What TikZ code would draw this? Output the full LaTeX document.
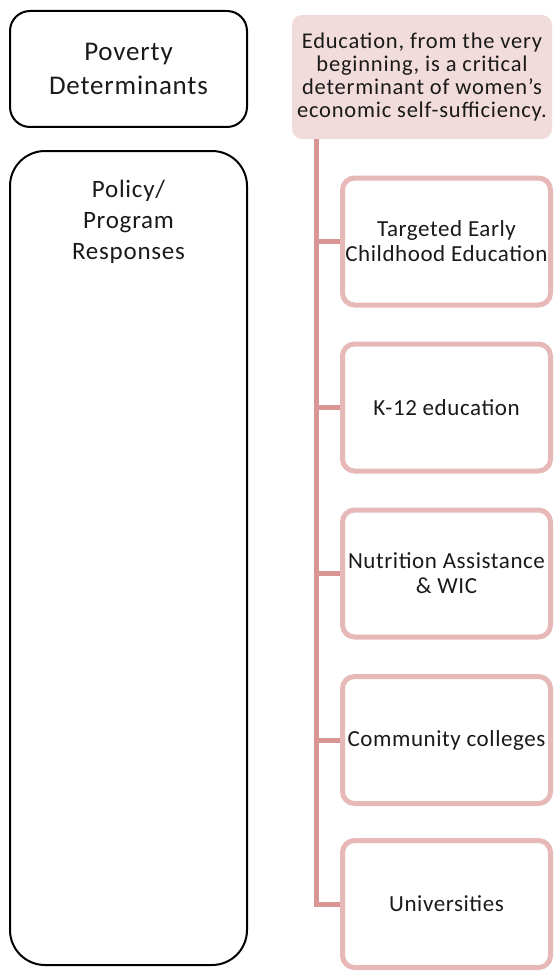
\documentclass[tikz,border=0pt]{standalone}
\usepackage{fontspec}
\setmainfont{Carlito}
\newfontfamily\headfont[LetterSpace=3]{Carlito}
\newfontfamily\topfont[LetterSpace=3.5]{Carlito}
\newfontfamily\itemfont[LetterSpace=2.5]{Carlito}
\usetikzlibrary{positioning}
\definecolor{pinkfill}{HTML}{F2DCDB}
\definecolor{pinkline}{HTML}{D99694}
\definecolor{pinkedge}{HTML}{E6B9B8}
\definecolor{textgray}{HTML}{1A1A1A}
\tikzset{
  headbox/.style={draw=black, line width=2pt, minimum width=237pt, align=center, text=textgray, font=\headfont\fontsize{25}{31}\selectfont},
  topbox/.style={fill=pinkfill, rounded corners=10pt, minimum width=260pt, minimum height=124pt, inner sep=2pt, align=center, text=textgray, font=\topfont\fontsize{22.5}{23}\selectfont},
  itembox/.style={draw=pinkedge, fill=white, line width=5pt, rounded corners=12pt, minimum width=208pt, minimum height=127pt, inner sep=2pt, align=center, text=textgray, font=\itemfont\fontsize{23}{25}\selectfont},
  branch/.style={draw=pinkline, line width=5pt},
}
\begin{document}
\begin{tikzpicture}[x=1pt,y=-1pt]
\useasboundingbox (0,0) rectangle (554,971);
\node[headbox, rounded corners=20pt, minimum height=116pt, font=\headfont\fontsize{27}{34}\selectfont] (poverty) at (128.5,69) {Poverty\\Determinants};
\node[headbox, rounded corners=35pt, minimum height=814pt] (policy) at (128.5,558) {};
\node[headbox, draw=none, below=26pt of policy.north] (policytxt) {Policy/\\Program\\Responses};
\node[topbox, text depth=4pt] (educ) at (422,77) {Education, from the very\\beginning, is a critical\\determinant of women’s\\economic self-sufficiency.};
\node[itembox] (b1) at (446.5,241.5) {Targeted Early\\Childhood Education};
\node[itembox] (b2) at (446.5,407.5) {K-12 education};
\node[itembox] (b3) at (446.5,573.5) {Nutrition Assistance\\\& WIC};
\node[itembox] (b4) at (446.5,740) {Community colleges};
\node[itembox] (b5) at (446.5,904) {Universities};
\coordinate (trunk) at (316,139);
\draw[branch] (trunk) |- (b5.west);
\foreach \i in {1,2,3,4}
  \draw[branch] (b\i.west -| trunk) -- (b\i.west);
\end{tikzpicture}
\end{document}
